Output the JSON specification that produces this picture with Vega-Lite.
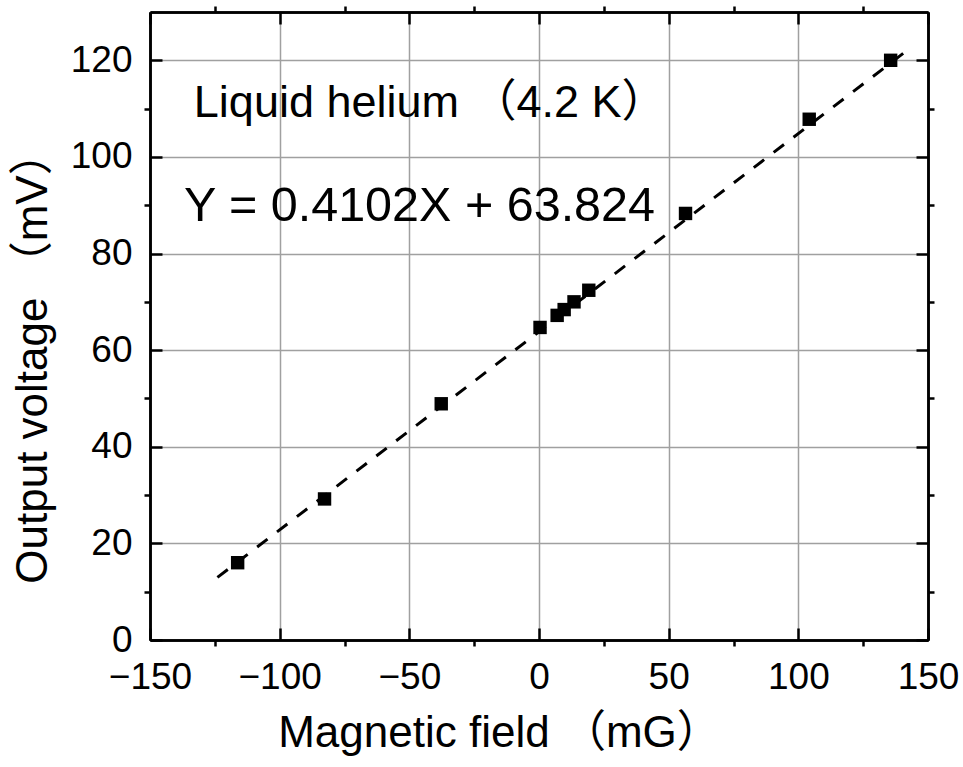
{
  "$schema": "https://vega.github.io/schema/vega-lite/v6.json",
  "width": 778,
  "height": 628,
  "autosize": {"type": "none"},
  "padding": {"left": 150, "top": 12, "right": 35, "bottom": 127},
  "background": "white",
  "config": {
    "font": "Liberation Sans, Noto Sans CJK JP",
    "view": {"stroke": null},
    "axis": {
      "domainColor": "black",
      "domainWidth": 2.5,
      "tickColor": "black",
      "tickWidth": 2.5,
      "gridColor": "#a0a0a0",
      "gridWidth": 1.5,
      "labelColor": "black",
      "labelFont": "Liberation Sans",
      "labelFontSize": 37,
      "labelFlush": false,
      "labelOverlap": false,
      "titleColor": "black",
      "titleFont": "Liberation Sans, Noto Sans CJK JP",
      "titleFontSize": 44,
      "titleFontWeight": "normal"
    }
  },
  "datasets": {
    "points": [
      {"field": -116.2, "voltage": 16.0},
      {"field": -82.7, "voltage": 29.2},
      {"field": -37.7, "voltage": 48.9},
      {"field": 0.4, "voltage": 64.7},
      {"field": 7.0, "voltage": 67.2},
      {"field": 9.7, "voltage": 68.4},
      {"field": 13.5, "voltage": 70.0},
      {"field": 19.2, "voltage": 72.4},
      {"field": 56.5, "voltage": 88.3},
      {"field": 104.2, "voltage": 107.8},
      {"field": 135.6, "voltage": 120.0}
    ],
    "fit": [
      {"field": -124, "voltage": 12.96},
      {"field": 141, "voltage": 121.66}
    ],
    "label1": [
      {"field": -133.1, "voltage": 108.2, "text": "Liquid helium （4.2 K）"}
    ],
    "label2": [
      {"field": -136.9, "voltage": 86.7, "text": "Y = 0.4102X + 63.824"}
    ]
  },
  "resolve": {"axis": {"x": "independent", "y": "independent"}},
  "layer": [
    {
      "data": {"name": "points"},
      "mark": {"type": "point", "shape": "square", "filled": true, "size": 180, "color": "black", "opacity": 1},
      "encoding": {
        "x": {
          "field": "field", "type": "quantitative",
          "scale": {"domain": [-150, 150], "nice": false, "zero": false},
          "axis": {
            "orient": "bottom",
            "values": [-150, -100, -50, 0, 50, 100, 150],
            "grid": true,
            "tickSize": -12,
            "labelPadding": 31,
            "title": "Magnetic field （mG）",
            "titlePadding": 16,
            "titleX": 349
          }
        },
        "y": {
          "field": "voltage", "type": "quantitative",
          "scale": {"domain": [0, 130], "nice": false, "zero": false},
          "axis": {
            "orient": "left",
            "values": [0, 20, 40, 60, 80, 100, 120],
            "grid": true,
            "tickSize": -12,
            "labelPadding": 30,
            "title": "Output voltage （mV）",
            "titleX": -117,
            "titleY": 345,
            "titleBaseline": "middle",
            "titleAngle": -90
          }
        }
      }
    },
    {
      "data": {"name": "fit"},
      "mark": {"type": "line", "color": "black", "strokeWidth": 3, "strokeDash": [13, 12]},
      "encoding": {
        "x": {
          "field": "field", "type": "quantitative",
          "axis": {
            "orient": "top",
            "values": [-150, -100, -50, 0, 50, 100, 150],
            "grid": false,
            "labels": false,
            "tickSize": -12,
            "title": null
          }
        },
        "y": {
          "field": "voltage", "type": "quantitative",
          "axis": {
            "orient": "right",
            "values": [0, 20, 40, 60, 80, 100, 120],
            "grid": false,
            "labels": false,
            "tickSize": -12,
            "title": null
          }
        }
      }
    },
    {
      "data": {"name": "label1"},
      "mark": {"type": "text", "align": "left", "baseline": "alphabetic", "fontSize": 45, "color": "black", "font": "Liberation Sans, Noto Sans CJK JP"},
      "encoding": {
        "text": {"field": "text"},
        "x": {
          "field": "field", "type": "quantitative",
          "axis": {
            "orient": "bottom",
            "values": [-125, -75, -25, 25, 75, 125],
            "grid": false,
            "labels": false,
            "tickSize": 6,
            "title": null
          }
        },
        "y": {
          "field": "voltage", "type": "quantitative",
          "axis": {
            "orient": "left",
            "values": [10, 30, 50, 70, 90, 110],
            "grid": false,
            "labels": false,
            "tickSize": 6,
            "title": null
          }
        }
      }
    },
    {
      "data": {"name": "label2"},
      "mark": {"type": "text", "align": "left", "baseline": "alphabetic", "fontSize": 48.5, "color": "black", "font": "Liberation Sans"},
      "encoding": {
        "text": {"field": "text"},
        "x": {
          "field": "field", "type": "quantitative",
          "axis": {
            "orient": "top",
            "values": [-125, -75, -25, 25, 75, 125],
            "grid": false,
            "labels": false,
            "tickSize": 6,
            "title": null
          }
        },
        "y": {
          "field": "voltage", "type": "quantitative",
          "axis": {
            "orient": "right",
            "values": [10, 30, 50, 70, 90, 110],
            "grid": false,
            "labels": false,
            "tickSize": 6,
            "title": null
          }
        }
      }
    }
  ]
}
